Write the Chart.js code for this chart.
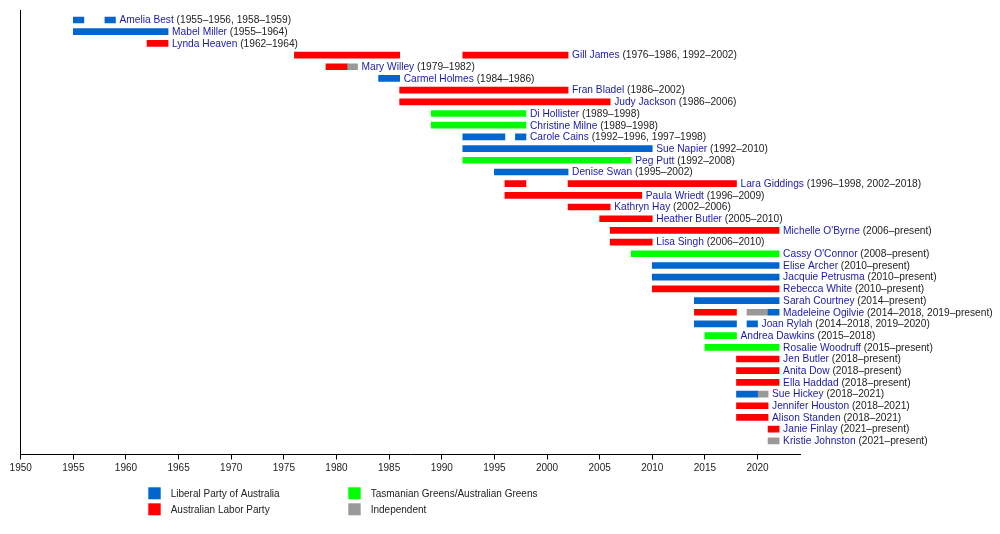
<!DOCTYPE html>
<html>
<head>
<meta charset="utf-8">
<script src="https://cdn.jsdelivr.net/npm/chart.js@4"></script>
<style>
    body { margin: 0; background: #fff; }
    #wrap { width: 1000px; height: 534px; position: relative; }
</style>
</head>
<body>
<div id="wrap"><canvas id="chart"></canvas></div>
<script>
const PRESENT = 2022.05

const names = [
    'Amelia Best', 'Mabel Miller', 'Lynda Heaven', 'Gill James', 'Mary Willey', 'Carmel Holmes',
    'Fran Bladel', 'Judy Jackson', 'Di Hollister', 'Christine Milne', 'Carole Cains', 'Sue Napier',
    'Peg Putt', 'Denise Swan', 'Lara Giddings', 'Paula Wriedt', 'Kathryn Hay', 'Heather Butler',
    'Michelle O\'Byrne', 'Lisa Singh', 'Cassy O\'Connor', 'Elise Archer', 'Jacquie Petrusma',
    'Rebecca White', 'Sarah Courtney', 'Madeleine Ogilvie', 'Joan Rylah', 'Andrea Dawkins',
    'Rosalie Woodruff', 'Jen Butler', 'Anita Dow', 'Ella Haddad', 'Sue Hickey', 'Jennifer Houston',
    'Alison Standen', 'Janie Finlay', 'Kristie Johnston'
]

const terms = [
    '1955–1956, 1958–1959', '1955–1964', '1962–1964', '1976–1986, 1992–2002', '1979–1982', '1984–1986',
    '1986–2002', '1986–2006', '1989–1998', '1989–1998', '1992–1996, 1997–1998', '1992–2010',
    '1992–2008', '1995–2002', '1996–1998, 2002–2018', '1996–2009', '2002–2006', '2005–2010',
    '2006–present', '2006–2010', '2008–present', '2010–present', '2010–present',
    '2010–present', '2014–present', '2014–2018, 2019–present', '2014–2018, 2019–2020', '2015–2018',
    '2015–present', '2018–present', '2018–present', '2018–present', '2018–2021', '2018–2021',
    '2018–2021', '2021–present', '2021–present'
]

// [name, start, end]
const liberal = [
    ['Amelia Best', 1955, 1956], ['Amelia Best', 1958, 1959], ['Mabel Miller', 1955, 1964],
    ['Carmel Holmes', 1984, 1986], ['Carole Cains', 1992, 1996], ['Carole Cains', 1997, 1998],
    ['Sue Napier', 1992, 2010], ['Denise Swan', 1995, 2002], ['Elise Archer', 2010, PRESENT],
    ['Jacquie Petrusma', 2010, PRESENT], ['Sarah Courtney', 2014, PRESENT], ['Madeleine Ogilvie', 2021, PRESENT],
    ['Joan Rylah', 2014, 2018], ['Joan Rylah', 2019, 2020], ['Sue Hickey', 2018, 2020]
]
const labor = [
    ['Lynda Heaven', 1962, 1964], ['Gill James', 1976, 1986], ['Gill James', 1992, 2002],
    ['Mary Willey', 1979, 1981], ['Fran Bladel', 1986, 2002], ['Judy Jackson', 1986, 2006],
    ['Lara Giddings', 1996, 1998], ['Lara Giddings', 2002, 2018], ['Paula Wriedt', 1996, 2009],
    ['Kathryn Hay', 2002, 2006], ['Heather Butler', 2005, 2010], ['Michelle O\'Byrne', 2006, PRESENT],
    ['Lisa Singh', 2006, 2010], ['Rebecca White', 2010, PRESENT], ['Madeleine Ogilvie', 2014, 2018],
    ['Jen Butler', 2018, PRESENT], ['Anita Dow', 2018, PRESENT], ['Ella Haddad', 2018, PRESENT],
    ['Jennifer Houston', 2018, 2021], ['Alison Standen', 2018, 2021], ['Janie Finlay', 2021, PRESENT]
]
const greens = [
    ['Di Hollister', 1989, 1998], ['Christine Milne', 1989, 1998], ['Peg Putt', 1992, 2008],
    ['Cassy O\'Connor', 2008, PRESENT], ['Andrea Dawkins', 2015, 2018], ['Rosalie Woodruff', 2015, PRESENT]
]
const independent = [
    ['Mary Willey', 1981, 1982], ['Madeleine Ogilvie', 2019, 2021], ['Sue Hickey', 2020, 2021],
    ['Kristie Johnston', 2021, PRESENT]
]

const yearTicks = [1950, 1955, 1960, 1965, 1970, 1975, 1980, 1985, 1990, 1995, 2000, 2005, 2010, 2015, 2020]

const partyNames = ['Liberal Party of Australia', 'Australian Labor Party', 'Tasmanian Greens/Australian Greens', 'Independent']
const partyColors = ['#0066cc', '#ff0000', '#00ff00', '#999999']

const FONT = '"Liberation Sans", Arial, sans-serif'

const toPoints = list => list.map(s => ({ x: [s[1], s[2]], y: names.indexOf(s[0]) }))

// last end year per row, for placing the label
const lastEnd = names.map(n => {
    let e = 0
    for (const s of [...liberal, ...labor, ...greens, ...independent]) if (s[0] === n && s[2] > e) e = s[2]
    return e
})

const labelPlugin = {
    id: 'labels',
    afterDraw: chart => {
        const ctx = chart.ctx
        const xs = chart.scales.x
        const ys = chart.scales.y
        ctx.save()
        ctx.font = `10.2px ${FONT}`
        ctx.textBaseline = 'middle'
        ctx.textAlign = 'left'
        for (let i = 0; i < names.length; i++) {
            let x = xs.getPixelForValue(lastEnd[i]) + 4
            const y = ys.getPixelForValue(i) + 0.5
            ctx.fillStyle = '#1a1aa8'
            ctx.fillText(names[i], x, y)
            x += ctx.measureText(names[i] + ' ').width
            ctx.fillStyle = '#222'
            ctx.fillText(`(${terms[i]})`, x, y)
        }
        // legend
        ctx.font = `10px ${FONT}`
        const pos = [[148.3, 487.3], [148.3, 503.3], [348.3, 487.3], [348.3, 503.3]]
        for (let i = 0; i < 4; i++) {
            ctx.fillStyle = partyColors[i]
            ctx.fillRect(pos[i][0], pos[i][1], 12.4, 12)
            ctx.fillStyle = '#222'
            ctx.fillText(partyNames[i], pos[i][0] + 22.4, pos[i][1] + 6.5)
        }
        ctx.restore()
    }
}

const makeSet = (list, color) => ({
    data: toPoints(list),
    backgroundColor: color,
    borderWidth: 0,
    barThickness: 6,
    grouped: false
})

window.onload = _ => {
    const ctx = document.getElementById('chart').getContext('2d')
    window.chart = new Chart(ctx, {
        type: 'bar',
        data: {
            datasets: [
                makeSet(liberal, partyColors[0]),
                makeSet(labor, partyColors[1]),
                makeSet(greens, partyColors[2]),
                makeSet(independent, partyColors[3])
            ]
        },
        options: {
            indexAxis: 'y',
            animation: false,
            responsive: true,
            maintainAspectRatio: false,
            layout: { padding: { left: 20.7, right: 199.3, top: 10, bottom: 0 } },
            plugins: { legend: { display: false }, tooltip: { enabled: false } },
            scales: {
                x: {
                    type: 'linear',
                    min: 1950,
                    max: 2024.1,
                    offset: false,
                    afterFit: s => { s.height = 79.5 },
                    afterBuildTicks: s => { s.ticks = yearTicks.map(v => ({ value: v })) },
                    ticks: {
                        color: '#222', padding: 3, maxRotation: 0, autoSkip: false,
                        font: { family: FONT, size: 10 },
                        callback: v => String(v)
                    },
                    grid: { drawOnChartArea: false, drawTicks: true, tickLength: 5, color: '#000', offset: false },
                    border: { display: true, color: '#000', width: 1 }
                },
                y: {
                    type: 'linear',
                    reverse: true,
                    min: -0.855,
                    max: 37.17,
                    offset: false,
                    afterFit: s => { s.width = 0 },
                    ticks: { display: false },
                    grid: { drawOnChartArea: false, drawTicks: false, color: 'rgba(0,0,0,0)', offset: false },
                    border: { display: true, color: '#000', width: 1 }
                }
            }
        },
        plugins: [labelPlugin]
    })
}
</script>
</body>
</html>
